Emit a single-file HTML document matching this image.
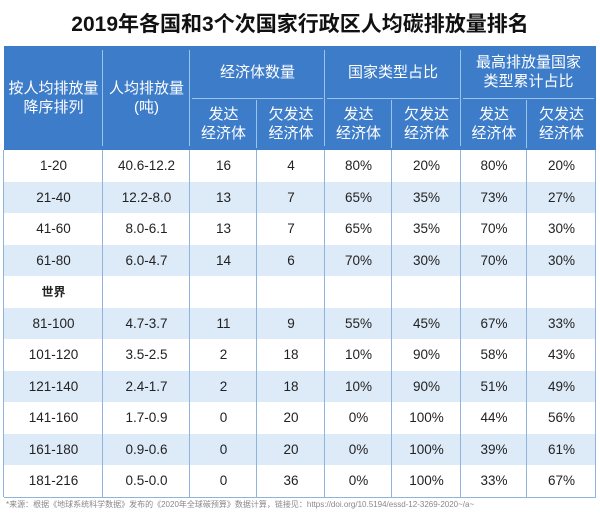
<!DOCTYPE html>
<html><head><meta charset="utf-8">
<style>
body{margin:0;width:600px;height:521px;background:#fff;position:relative;overflow:hidden;font-family:"Liberation Sans","Noto Sans CJK SC",sans-serif;}
.t{position:absolute;left:0;width:600px;top:8px;text-align:center;font-size:21px;font-weight:bold;color:#111;}
.a{position:absolute;box-sizing:border-box;display:flex;align-items:center;justify-content:center;text-align:center;}
.h{background:#3d7cc9;color:#fff;font-size:15px;line-height:19px;}
.c{font-size:13.5px;color:#222;}
.fn{position:absolute;left:6px;top:499px;font-size:8px;color:#888;white-space:nowrap;}
</style></head><body>
<div class="t">2019年各国和3个次国家行政区人均碳排放量排名</div>
<div id="tbl"></div>
<div class="fn">*来源：根据《地球系统科学数据》发布的《2020年全球碳预算》数据计算，链接见：https://doi.org/10.5194/essd-12-3269-2020~/a~</div>
<script>
const rankLabels=["1-20","21-40","41-60","61-80","世界","81-100","101-120","121-140","141-160","161-180","181-216"];
const perCapita=["40.6-12.2","12.2-8.0","8.0-6.1","6.0-4.7","","4.7-3.7","3.5-2.5","2.4-1.7","1.7-0.9","0.9-0.6","0.5-0.0"];
const devCount=["16","13","13","14","","11","2","2","0","0","0"];
const undevCount=["4","7","7","6","","9","18","18","20","20","36"];
const devShare=["80%","65%","65%","70%","","55%","10%","10%","0%","0%","0%"];
const undevShare=["20%","35%","35%","30%","","45%","90%","90%","100%","100%","100%"];
const cumDev=["80%","73%","70%","70%","","67%","58%","51%","44%","39%","33%"];
const cumUndev=["20%","27%","30%","30%","","33%","43%","49%","56%","61%","67%"];
const cols=[4,103,190,257,325,392,461,527,596];
const T=document.getElementById('tbl');
function cell(x,y,w,h,txt,cls,name){const d=document.createElement('div');d.className='a '+cls;
d.style.left=x+'px';d.style.top=y+'px';d.style.width=w+'px';d.style.height=h+'px';d.innerHTML=txt;


T.appendChild(d);return d;}
const top0=46,mid=98,hb=150;
cell(cols[0],top0,cols[8]-cols[0],hb-top0,'','h','header-background');
function hdr(x1,x2,y1,y2,txt,name){const d=cell(x1,y1,x2-x1,y2-y1,txt,'h',name);d.style.background='transparent';return d;}
hdr(cols[0],cols[1],top0,hb,'按人均排放量<br>降序排列','header-rank');
hdr(cols[1],cols[2],top0,hb,'人均排放量<br>(吨)','header-per-capita');
hdr(cols[2],cols[4],top0,mid,'经济体数量','header-economy-count');
hdr(cols[4],cols[6],top0,mid,'国家类型占比','header-type-share');
hdr(cols[6],cols[8],top0,mid,'最高排放量国家<br>类型累计占比','header-cumulative-share');
const subs=['发达<br>经济体','欠发达<br>经济体'];
for(let i=2;i<8;i++){hdr(cols[i],cols[i+1],mid,hb,subs[i%2],i%2?'header-undeveloped':'header-developed');}
function line(x,y,w,h,col,name){const d=document.createElement('div');d.style.cssText='position:absolute;left:'+x+'px;top:'+y+'px;width:'+w+'px;height:'+h+'px;background:'+col;


T.appendChild(d);}
for(let i=1;i<8;i++){line(cols[i]-1,(i==3||i==5||i==7)?mid+2:top0+4,1,(i==3||i==5||i==7)?hb-mid-4:hb-top0-8,'#9cc3ec','header-divider');}
[[2,4],[4,6],[6,8]].forEach(p=>line(cols[p[0]]+2,mid,cols[p[1]]-cols[p[0]]-4,1,'#9cc3ec','header-subdivider'));
const rh=31.5;
const series=[rankLabels,perCapita,devCount,undevCount,devShare,undevShare,cumDev,cumUndev];
rankLabels.forEach((r,ri)=>{
 const y=hb+ri*rh;
 const bg=cell(cols[0],y,cols[8]-cols[0],rh,'','c','row-background');
 bg.style.background=ri%2?'#ddeaf7':'#fff';
 series.forEach((s,ci)=>{const d=cell(cols[ci],y,cols[ci+1]-cols[ci],rh,s[ri],'c','cell');
  if(ri==4&&ci==0){d.style.fontWeight='bold';d.style.fontSize='12px';}});
});
const bottom=hb+rankLabels.length*rh;
for(let i=0;i<9;i++){line(cols[i]-1,hb,1,bottom-hb,'#8fb3da','body-divider');}
line(cols[0],bottom,cols[8]-cols[0],1,'#8fb3da','table-bottom-border');
</script>
</body></html>
